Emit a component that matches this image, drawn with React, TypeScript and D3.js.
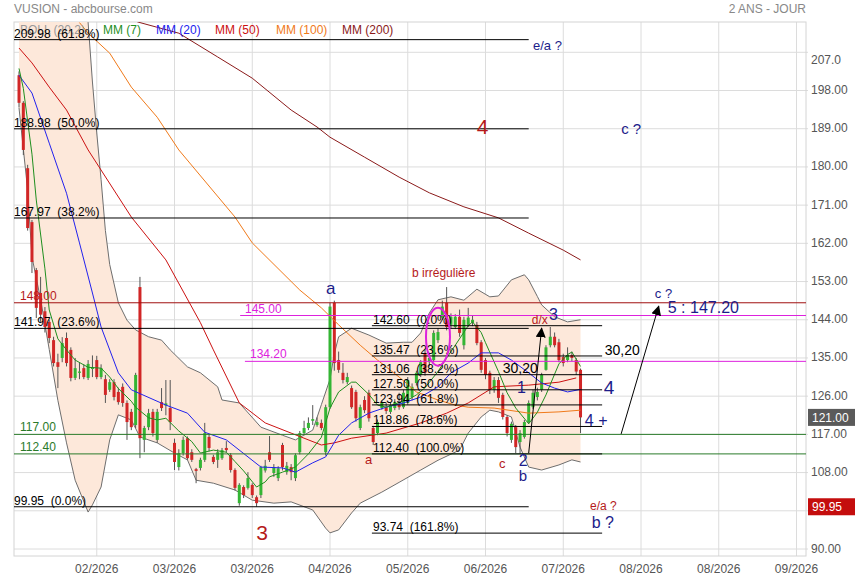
import * as d3 from 'd3';
import { useEffect, useRef } from 'react';

type Pt = [number, number];

// daily candles, index 0 = first visible session
const opens = [
  201.6, 195.1, 179.7, 167.0, 155.7, 150.3, 146.0, 143.5, 139.2, 134.0,
  135.0, 139.7, 136.9, 130.3, 131.5, 132.6, 130.3, 132.4, 134.5, 130.5,
  130.0, 127.5, 129.3, 127.0, 128.2, 124.4, 122.3, 119.2, 151.7, 115.7,
  118.7, 122.3, 115.7, 124.6, 123.8, 123.2, 115.0, 109.3, 112.6, 116.1,
  112.8, 108.8, 109.1, 111.0, 116.4, 111.7, 111.0, 111.4, 113.8, 112.1,
  108.6, 100.8, 104.6, 104.4, 105.1, 102.2, 102.7, 108.5, 112.8, 107.9,
  106.7, 114.5, 108.1, 109.3, 106.7, 112.8, 117.3, 118.5, 120.2, 119.2,
  119.7, 112.8, 123.4, 148.0, 134.5, 131.5, 129.3, 127.9, 127.0, 118.5,
  125.1, 126.8, 118.5, 117.3, 123.2, 123.4, 122.3, 123.2, 123.9, 123.4,
  124.4, 125.8, 129.1, 131.0, 136.2, 134.0, 134.5, 139.2, 144.5, 148.0,
  142.8, 142.3, 144.7, 138.0, 142.8, 143.3, 142.8, 138.7, 134.5, 131.5,
  127.5, 129.8, 126.3, 121.1, 115.7, 118.7, 115.2, 116.4, 119.9, 123.4,
  125.8, 127.5, 132.2, 138.0, 140.0, 138.7, 135.2, 134.5, 135.7, 134.5,
  132.2,
];
const highs = [
  202.5, 195.5, 180.5, 167.5, 156.2, 154.1, 147.0, 144.0, 140.0, 136.0,
  139.9, 141.0, 137.5, 135.0, 134.0, 133.5, 134.5, 135.6, 135.5, 133.5,
  131.0, 130.0, 130.0, 128.0, 129.0, 125.0, 123.0, 131.5, 154.1, 119.0,
  123.0, 123.0, 123.0, 127.9, 129.8, 129.8, 116.0, 113.5, 116.5, 116.5,
  113.5, 109.1, 111.5, 119.7, 117.0, 112.2, 113.5, 113.8, 115.4, 112.6,
  109.0, 105.5, 105.0, 108.1, 105.5, 102.6, 109.6, 111.0, 116.6, 110.0,
  109.5, 115.0, 110.5, 110.0, 112.5, 117.8, 120.2, 121.0, 123.9, 121.0,
  120.5, 124.0, 148.0, 148.5, 136.5, 133.8, 131.5, 128.5, 127.5, 124.0,
  126.0, 127.5, 119.0, 120.5, 125.0, 124.5, 124.6, 125.3, 126.8, 127.5,
  130.5, 129.0, 132.0, 134.5, 137.0, 136.0, 141.5, 142.0, 148.5, 151.7,
  145.5, 145.3, 146.4, 144.7, 146.8, 145.0, 143.5, 139.2, 135.0, 132.0,
  130.5, 130.5, 126.8, 121.5, 120.0, 119.2, 118.0, 120.4, 125.0, 127.5,
  128.0, 131.5, 138.0, 142.3, 141.0, 139.5, 136.0, 137.5, 136.5, 135.0,
  132.5,
];
const lows = [
  194.0, 182.8, 165.0, 155.0, 144.4, 143.5, 141.0, 138.5, 133.0, 127.9,
  134.0, 133.0, 129.5, 129.8, 130.0, 130.0, 129.8, 130.5, 130.0, 130.0,
  124.4, 127.0, 125.0, 124.0, 123.5, 115.7, 118.0, 118.5, 111.4, 112.8,
  118.0, 116.5, 115.0, 122.5, 121.5, 118.0, 108.6, 108.5, 112.0, 111.0,
  110.5, 105.5, 108.5, 110.5, 113.0, 110.0, 109.1, 111.0, 112.8, 108.0,
  103.8, 100.2, 102.0, 104.0, 102.0, 99.95, 102.0, 108.0, 110.5, 107.0,
  106.0, 108.5, 107.5, 106.2, 106.0, 112.3, 116.8, 118.0, 119.2, 118.8,
  118.0, 112.0, 123.0, 132.0, 131.5, 129.0, 128.8, 123.0, 120.0, 118.0,
  122.0, 120.0, 114.5, 116.8, 122.8, 121.8, 121.8, 122.7, 122.8, 123.0,
  124.0, 125.0, 128.5, 130.5, 130.8, 133.0, 134.0, 138.5, 144.0, 141.5,
  142.0, 141.8, 140.0, 137.0, 142.3, 142.5, 138.0, 131.5, 130.0, 126.5,
  126.8, 124.4, 120.5, 116.5, 115.0, 112.6, 112.4, 116.0, 119.5, 123.0,
  125.0, 127.0, 132.0, 137.5, 137.5, 134.0, 133.0, 134.0, 134.2, 131.0,
  117.3,
];
const closes = [
  195.1, 184.0, 165.6, 157.6, 146.8, 145.2, 142.3, 139.7, 133.8, 132.9,
  138.5, 133.8, 130.3, 132.6, 131.8, 130.5, 133.6, 132.8, 130.5, 132.6,
  126.3, 129.3, 125.8, 124.6, 124.4, 119.9, 118.7, 131.0, 116.1, 118.5,
  122.0, 117.3, 122.3, 123.2, 124.3, 119.9, 110.5, 112.6, 115.7, 111.4,
  111.0, 108.4, 111.0, 117.3, 113.8, 110.5, 112.8, 113.3, 113.3, 108.6,
  104.4, 105.1, 102.7, 106.7, 102.7, 100.8, 109.3, 109.6, 111.0, 109.3,
  109.0, 109.3, 109.6, 108.1, 112.1, 117.3, 118.5, 119.7, 120.6, 119.9,
  118.5, 123.4, 147.1, 133.8, 132.2, 129.8, 130.5, 123.4, 120.8, 123.4,
  122.7, 120.8, 115.2, 119.9, 124.4, 122.5, 123.9, 124.6, 123.4, 126.8,
  129.8, 128.2, 131.5, 134.0, 131.5, 135.0, 140.9, 141.1, 147.1, 142.3,
  144.7, 144.7, 140.9, 144.0, 144.5, 144.0, 138.5, 132.2, 131.0, 127.5,
  129.8, 125.6, 121.1, 117.3, 119.5, 114.0, 117.3, 119.9, 124.4, 126.8,
  127.0, 131.0, 137.5, 140.0, 138.0, 134.5, 133.8, 135.7, 135.0, 131.8,
  121.0,
];

// indicator curves: [session index, value]
const bollUpper: Pt[] = [
  [0, 250], [10, 246], [14, 234], [16, 214], [17, 200], [18, 188], [19, 177],
  [20, 165], [21, 157], [23, 148], [25, 143.9], [27, 141.6], [30, 140], [33, 139.2],
  [35, 136.9], [39, 132.9], [42, 131.5], [46, 128.2], [47, 125.1], [51, 124.4],
  [56, 118.7], [61, 116.8], [64, 115.7], [68, 118.0], [70, 124], [72, 130], [73, 136],
  [74, 140], [77, 142.0], [81, 140.4], [85, 138.5], [89, 138.7], [91, 138.7],
  [93, 140.9], [95, 145.6], [97, 148.7], [100, 149.4], [103, 148.6], [106, 151.2],
  [109, 149.4], [111, 149.6], [114, 153.4], [117, 154.6], [118, 153.4], [120, 149.5],
  [121, 147.5], [124, 144.7], [127, 143.5], [130, 144.0],
];
const bollLower: Pt[] = [
  [0, 193.9], [2, 174.6], [3, 158.8], [5, 148.8], [7, 137], [9, 125], [11, 115],
  [13, 106.2], [16, 98.7], [17, 100.4], [19, 104.6], [21, 115.7], [23, 121.6],
  [26, 120.4], [28, 116.4], [32, 115.0], [36, 112.6], [39, 111.0], [41, 106.2],
  [45, 105.5], [50, 103.9], [54, 101.5], [59, 100.8], [63, 101.1], [68, 99.2],
  [71, 94.9], [72, 93.8], [74, 94.5], [77, 98.5], [79, 100.8], [84, 103.4],
  [88, 105.7], [93, 108.6], [97, 110.9], [102, 113.3], [104, 117.3], [107, 121.1],
  [109, 122.7], [111, 122.3], [114, 121.1], [116, 114.0], [118, 109.3], [121, 108.6],
  [125, 109.8], [128, 111.0], [130, 110.5],
];
const mm7: Pt[] = [
  [0, 203.2], [1, 198.5], [3, 183], [4, 172.2], [6, 156], [7, 146.3], [9, 139.5],
  [11, 136.9], [13, 134.5], [16, 132.8], [19, 132.6], [21, 130.5], [23, 127.8],
  [26, 124.8], [27, 123.4], [30, 120.9], [32, 120.4], [34, 120.8], [37, 117.8],
  [40, 115.3], [42, 112.6], [45, 113.3], [48, 112.8], [50, 110.6], [52, 108.4],
  [55, 104.6], [57, 105.8], [58, 107.0], [61, 108.1], [64, 109.3], [67, 112.4],
  [70, 116.3], [72, 123.2], [74, 127.0], [77, 129.3], [78, 129.3], [81, 126.4],
  [83, 123.9], [85, 123.4], [88, 124.5], [90, 125.1], [92, 126.3], [94, 128.0],
  [97, 131.8], [99, 135.0], [101, 138.0], [104, 142.6], [105, 143.5], [107, 141.0],
  [108, 138.6], [111, 131.8], [113, 126.8], [115, 123.2], [118, 119.5], [120, 122.2],
  [122, 126.3], [124, 131.2], [125, 133.6], [127, 135.8], [128, 136.4], [130, 133.0],
];
const mm20: Pt[] = [
  [0, 201.6], [3, 197.4], [7, 185.6], [11, 173.8], [14, 162.1], [17, 150.3],
  [19, 142.3], [23, 131.5], [26, 127.5], [34, 123.9], [39, 122.0], [43, 117.5],
  [48, 115.7], [56, 109.3], [61, 109.1], [64, 108.1], [68, 110.3], [71, 111.7],
  [74, 116.8], [77, 119.7], [81, 122.0], [85, 123.4], [89, 124.4], [93, 125.8],
  [97, 128.2], [100, 131.5], [104, 133.8], [107, 136.2], [111, 136.2], [114, 134.5],
  [118, 131.5], [121, 129.1], [124, 127.9], [127, 127.0], [130, 127.6],
];
const mm50: Pt[] = [
  [0, 208.0], [3, 204.5], [7, 198.8], [11, 193.4], [16, 184.0], [26, 168.2],
  [34, 158.1], [42, 143.3], [45, 136.9], [51, 124.4], [57, 119.7], [63, 117.3],
  [70, 114.5], [73, 115.0], [77, 116.1], [85, 117.3], [93, 119.7], [99, 122.0],
  [104, 124.4], [110, 128.2], [118, 128.6], [125, 129.3], [129, 130.3],
];
const mm100: Pt[] = [
  [14, 214], [16, 211.5], [21, 206.8], [26, 198.8], [32, 191.7], [37, 184.0],
  [50, 168.2], [54, 162.1], [65, 151.0], [70, 146.8], [74, 142.8], [79, 138.0],
  [83, 134.5], [88, 130.5], [92, 127.0], [97, 125.1], [101, 123.9], [104, 123.4],
  [110, 123.2], [118, 122.0], [125, 122.3], [130, 122.7],
];
const mm200: Pt[] = [
  [25, 215], [28, 214], [37, 211.5], [46, 205.9], [54, 200.9], [63, 193.4],
  [69, 189.4], [72, 187.0], [80, 182.3], [88, 177.6], [95, 173.9], [103, 170.6],
  [111, 168.0], [118, 164.4], [126, 160.4], [130, 158.1],
];

const priceTicks = [90, 99, 108, 117, 126, 135, 144, 153, 162, 171, 180, 189, 198, 207];
const monthTicks = [18, 36, 54, 72, 90, 108, 126, 144, 162, 180];
const monthLabels = ['02/2026', '03/2026', '03/2026', '04/2026', '05/2026', '06/2026', '07/2026', '08/2026', '08/2026', '09/2026'];

const fibLongValues = [209.98, 188.98, 167.97, 141.97, 99.95];
const fibLongPcts = ['61.8%', '50.0%', '38.2%', '23.6%', '0.0%'];
const fibShortValues = [142.60, 135.47, 131.06, 127.50, 123.94, 118.86, 112.40, 93.74];
const fibShortPcts = ['0.0%', '23.6%', '38.2%', '50.0%', '61.8%', '78.6%', '100.0%', '161.8%'];

const lastPrice = 121.0;
const lowPrice = 99.95;

const App: React.FC = () => {
  const ref = useRef<SVGSVGElement | null>(null);

  useEffect(() => {
    if (!ref.current) return;
    const svg = d3.select(ref.current);
    svg.selectAll('*').remove();

    const left = 14, right = 806, top = 22, bottom = 556;
    const font = 'Arial, "Liberation Sans", sans-serif';
    const navy = '#1c1c8a';
    const dred = '#b51a1a';
    const magenta = '#dd22dd';
    const dgreen = '#2a7a2a';

    const x = d3.scaleLinear().domain([-1.16, 182.2]).range([left, right]);
    const y = d3.scaleLinear().domain([90, 207]).range([549, 52.3]);

    const text = (px: number, py: number, s: string, fill: string, size: number, anchor = 'start') =>
      svg.append('text')
        .attr('x', px).attr('y', py)
        .attr('fill', fill).attr('font-size', size)
        .attr('font-family', font).attr('text-anchor', anchor)
        .text(s);

    // header
    text(left, 13, 'VUSION - abcbourse.com', '#888', 12);
    text(right, 13, '2 ANS - JOUR', '#888', 12, 'end');

    // grid
    svg.append('g').selectAll('line')
      .data(priceTicks).enter().append('line')
      .attr('x1', left).attr('x2', right + 2)
      .attr('y1', d => y(d)).attr('y2', d => y(d))
      .attr('stroke', '#dcdcdc');
    svg.append('g').selectAll('line')
      .data(monthTicks).enter().append('line')
      .attr('x1', d => x(d)).attr('x2', d => x(d))
      .attr('y1', top).attr('y2', bottom)
      .attr('stroke', '#dcdcdc');
    svg.append('rect')
      .attr('x', left).attr('y', top)
      .attr('width', right - left).attr('height', bottom - top)
      .attr('fill', 'none').attr('stroke', '#d4d4d4');

    // axes labels (99 is hidden under the low-price tag)
    priceTicks.filter(v => v !== 99).forEach(v => {
      const lbl = v === 207 ? '207.0' : v.toFixed(2);
      text(811, v === 207 ? y(v) + 12 : y(v) + 3.5, lbl, '#555', 12);
    });
    monthTicks.forEach((m, k) => text(x(m), 573, monthLabels[k], '#555', 12, 'middle'));

    svg.append('defs').append('clipPath').attr('id', 'plotclip')
      .append('rect').attr('x', left).attr('y', top)
      .attr('width', right - left).attr('height', bottom - top);
    const plot = svg.append('g').attr('clip-path', 'url(#plotclip)');

    const line = d3.line<Pt>().x(d => x(d[0])).y(d => y(d[1]));

    // bollinger band
    const upPath = line(bollUpper) ?? '';
    const loPath = line([...bollLower].reverse()) ?? '';
    plot.append('path')
      .attr('d', upPath + 'L' + loPath.slice(1) + 'Z')
      .attr('fill', '#fde8da');
    [bollUpper, bollLower].forEach(b =>
      plot.append('path').attr('d', line(b) ?? '')
        .attr('fill', 'none').attr('stroke', '#6e6e6e').attr('stroke-width', 1));

    // legend
    const legend: [string, string, number][] = [
      ['BOLL (20,2)', '#999', 20], ['MM (7)', '#1f8f1f', 103], ['MM (20)', '#2222ee', 156],
      ['MM (50)', '#cc1111', 215], ['MM (100)', '#f07a1a', 276], ['MM (200)', '#8b1a1a', 342],
    ];
    legend.forEach(([s, c, px]) => text(px, 34, s, c, 12));

    // candles
    const idx = d3.range(closes.length);
    const cg = plot.append('g');
    cg.selectAll('line').data(idx).enter().append('line')
      .attr('x1', i => x(i)).attr('x2', i => x(i))
      .attr('y1', i => y(highs[i])).attr('y2', i => y(lows[i]))
      .attr('stroke', '#555').attr('stroke-width', 1);
    cg.selectAll('rect').data(idx).enter().append('rect')
      .attr('x', i => x(i) - 1.5).attr('width', 3)
      .attr('y', i => y(Math.max(opens[i], closes[i])))
      .attr('height', i => Math.max(1, Math.abs(y(opens[i]) - y(closes[i]))))
      .attr('fill', i => (closes[i] >= opens[i] ? '#34b534' : '#d12626'));

    // moving averages
    const mas: [Pt[], string][] = [
      [mm200, '#8b1a1a'], [mm100, '#f07a1a'], [mm50, '#cc1111'], [mm20, '#2222ee'], [mm7, '#1f8f1f'],
    ];
    mas.forEach(([pts, c]) =>
      plot.append('path').attr('d', line(pts) ?? '')
        .attr('fill', 'none').attr('stroke', c).attr('stroke-width', 1));

    const hline = (v: number, i0: number, i1: number, c: string) =>
      plot.append('line')
        .attr('x1', x(i0)).attr('x2', x(i1))
        .attr('y1', y(v)).attr('y2', y(v))
        .attr('stroke', c).attr('stroke-width', 1);

    // levels
    hline(148.0, -2, 183, '#a01010');
    hline(145.0, 51.2, 183, magenta);
    hline(134.2, 52.3, 183, magenta);
    hline(117.0, -2, 183, dgreen);
    hline(112.4, -2, 183, dgreen);
    text(20, y(148) - 3, '148.00', dred, 12);
    text(245, y(145) - 3, '145.00', magenta, 12);
    text(250, y(134.2) - 3, '134.20', magenta, 12);
    text(20, y(117) - 3, '117.00', dgreen, 12);
    text(20, y(112.4) - 3, '112.40', dgreen, 12);

    fibLongValues.forEach((v, k) => {
      hline(v, -2, 118, '#000');
      text(left, y(v) - 2, `${v.toFixed(2)}\u00a0\u00a0(${fibLongPcts[k]})`, '#000', 12);
    });
    fibShortValues.forEach((v, k) => {
      hline(v, 81.7, 135, '#000');
      text(373, y(v) - 2, `${v.toFixed(2)}\u00a0\u00a0(${fibShortPcts[k]})`, '#000', 12);
    });

    // magenta ellipse
    svg.append('ellipse')
      .attr('cx', x(97)).attr('cy', y(140.0))
      .attr('rx', 12).attr('ry', 29)
      .attr('fill', 'none').attr('stroke', magenta).attr('stroke-width', 2);

    // arrows
    svg.select('defs').append('marker')
      .attr('id', 'head').attr('markerUnits', 'userSpaceOnUse')
      .attr('markerWidth', 10).attr('markerHeight', 10)
      .attr('refX', 9).attr('refY', 5).attr('orient', 'auto')
      .append('path').attr('d', 'M0,0L10,5L0,10Z').attr('fill', '#000');
    const arrow = (a: Pt, b: Pt) =>
      svg.append('line')
        .attr('x1', x(a[0])).attr('y1', y(a[1]))
        .attr('x2', x(b[0])).attr('y2', y(b[1]))
        .attr('stroke', '#000').attr('stroke-width', 1)
        .attr('marker-end', 'url(#head)');
    arrow([118, 112.6], [121, 142.0]);
    arrow([139.4, 117.1], [148.1, 147.2]);

    // wave annotations
    const notes: [string, number, number, string, number][] = [
      ['e/a ?', 119, 207.5, navy, 13],
      ['4', 106, 187.7, dred, 21],
      ['c ?', 139.4, 187.7, navy, 15],
      ['b irrégulière', 91, 154.1, dred, 12],
      ['a', 71.1, 150.1, navy, 17],
      ['3', 122.7, 144.0, navy, 16],
      ['d/x', 118.7, 143.0, dred, 12],
      ['c ?', 147.2, 149.1, navy, 13],
      ['5 : 147.20', 150.2, 145.6, navy, 16],
      ['30,20', 135.6, 135.7, '#000', 14],
      ['30,20', 112, 131.5, '#000', 14],
      ['1', 115.3, 126.8, navy, 16],
      ['4', 135.4, 126.5, navy, 19],
      ['4 +', 131, 119.0, navy, 16],
      ['a', 80.1, 110.0, dred, 13],
      ['c', 111.1, 109.1, dred, 13],
      ['2', 115.7, 109.6, navy, 16],
      ['b', 115.7, 105.9, navy, 15],
      ['3', 54.9, 92.1, dred, 21],
      ['e/a ?', 132.2, 99.2, dred, 12],
      ['b ?', 132.6, 94.9, navy, 16],
    ];
    notes.forEach(([s, i, v, c, size]) => text(x(i), y(v), s, c, size));

    // price tags
    const tag = (v: number, bg: string) => {
      svg.append('rect').attr('x', 808).attr('y', y(v) - 8.5)
        .attr('width', 47).attr('height', 17).attr('fill', bg);
      text(812, y(v) + 4.5, v.toFixed(2), '#fff', 12);
    };
    tag(lastPrice, '#5a5a5a');
    tag(lowPrice, '#c40d0d');
  }, []);

  return (
    <svg ref={ref} width={855} height={580}
      style={{ position: 'absolute', left: 0, top: 0, background: '#fff' }} />
  );
};

export default App;
